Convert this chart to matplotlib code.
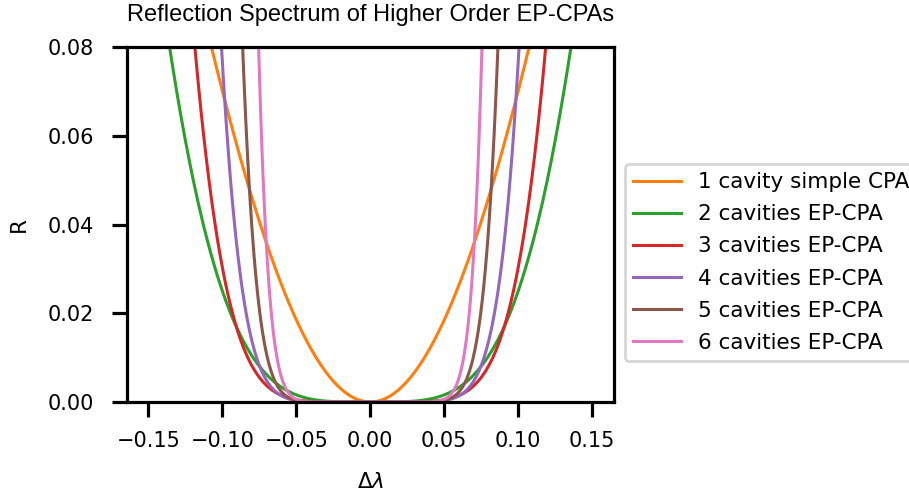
"""
Reflection spectrum of higher order EP-CPAs (R vs detuning).
"""
import numpy as np
import matplotlib
matplotlib.use('Agg')
import matplotlib.pyplot as plt

# ── data ─────────────────────────────────────────────────────────────────────
# reflectance levels; for each curve the |Δλ| where it crosses that level
R_LEVELS = [0.00002, 0.00005, 0.0001, 0.0002, 0.0003, 0.0005, 0.0007, 0.001,
            0.0014, 0.002, 0.0027, 0.0035, 0.0045, 0.0055, 0.007, 0.0085,
            0.01, 0.012, 0.014, 0.016, 0.018, 0.02, 0.0225, 0.025, 0.0275,
            0.03, 0.0335, 0.037, 0.04, 0.045, 0.05, 0.055, 0.06, 0.065,
            0.07, 0.075, 0.08, 0.085]

DL_1CAV = [0.00163, 0.00258, 0.00364, 0.00515, 0.00631, 0.00815, 0.00964,
           0.01152, 0.01364, 0.01630, 0.01895, 0.02158, 0.02449, 0.02709,
           0.03058, 0.03372, 0.03660, 0.04014, 0.04340, 0.04644, 0.04931,
           0.05203, 0.05526, 0.05832, 0.06125, 0.06405, 0.06781, 0.07139,
           0.07434, 0.07906, 0.08356, 0.08787, 0.09202, 0.09603, 0.09992,
           0.10371, 0.10740, 0.11101]
DL_2CAV = [0.016711, 0.021014, 0.024990, 0.029719, 0.032890, 0.037372,
           0.040654, 0.044449, 0.048355, 0.052873, 0.057002, 0.060835,
           0.064796, 0.068147, 0.072409, 0.076039, 0.079222, 0.082958,
           0.086262, 0.089235, 0.091949, 0.094451, 0.097335, 0.099997,
           0.102474, 0.104795, 0.107824, 0.110637, 0.112902, 0.116428,
           0.119692, 0.122740, 0.125606, 0.128316, 0.130890, 0.133347,
           0.135700, 0.137960]
DL_3CAV = [0.029357, 0.034201, 0.038389, 0.043091, 0.046104, 0.050203,
           0.053101, 0.056356, 0.059611, 0.063268, 0.066521, 0.069470,
           0.072454, 0.074931, 0.078024, 0.080610, 0.082844, 0.085429,
           0.087682, 0.089685, 0.091494, 0.093147, 0.095034, 0.096759,
           0.098350, 0.099830, 0.101744, 0.103506, 0.104914, 0.107087,
           0.109079, 0.110923, 0.112643, 0.114257, 0.115781, 0.117225,
           0.118600, 0.119913]
DL_4CAV = [0.035303, 0.039588, 0.043171, 0.047079, 0.049527, 0.052794,
           0.055063, 0.057576, 0.060052, 0.062795, 0.065201, 0.067357,
           0.069516, 0.071290, 0.073486, 0.075305, 0.076865, 0.078657,
           0.080208, 0.081578, 0.082809, 0.083929, 0.085201, 0.086358,
           0.087421, 0.088405, 0.089674, 0.090836, 0.091761, 0.093183,
           0.094480, 0.095676, 0.096786, 0.097825, 0.098801, 0.099724,
           0.100600, 0.101434]
DL_5CAV = [0.037341, 0.040924, 0.043862, 0.047010, 0.048956, 0.051523,
           0.053287, 0.055223, 0.057116, 0.059193, 0.061001, 0.062610,
           0.064209, 0.065517, 0.067127, 0.068453, 0.069585, 0.070880,
           0.071996, 0.072978, 0.073858, 0.074655, 0.075559, 0.076379,
           0.077130, 0.077824, 0.078716, 0.079531, 0.080179, 0.081171,
           0.082074, 0.082904, 0.083673, 0.084390, 0.085063, 0.085698,
           0.086300, 0.086872]
DL_6CAV = [0.037563, 0.040544, 0.042955, 0.045509, 0.047073, 0.049121,
           0.050519, 0.052045, 0.053526, 0.055144, 0.056544, 0.057784,
           0.059011, 0.060012, 0.061237, 0.062244, 0.063101, 0.064078,
           0.064917, 0.065655, 0.066314, 0.066910, 0.067584, 0.068195,
           0.068753, 0.069268, 0.069929, 0.070532, 0.071010, 0.071742,
           0.072406, 0.073016, 0.073580, 0.074105, 0.074597, 0.075061,
           0.075500, 0.075917]

LABELS = ['1 cavity simple CPA', '2 cavities EP-CPA', '3 cavities EP-CPA',
          '4 cavities EP-CPA', '5 cavities EP-CPA', '6 cavities EP-CPA']
CURVES = [DL_1CAV, DL_2CAV, DL_3CAV, DL_4CAV, DL_5CAV, DL_6CAV]
COLORS = ['C1', 'C2', 'C3', 'C4', 'C5', 'C6']

X_TICKS = [-0.15, -0.10, -0.05, 0.00, 0.05, 0.10, 0.15]
Y_TICKS = [0.00, 0.02, 0.04, 0.06, 0.08]


def full_curve(dl, r):
    # spectrum is symmetric: mirror the read half and join at the R=0 minimum
    dl = np.asarray(dl)
    r = np.asarray(r)
    x = np.concatenate([-dl[::-1], [0.0], dl])
    y = np.concatenate([r[::-1], [0.0], r])
    return x, y


def tick_text(v):
    return f'{v:.2f}'.replace('-', '\u2212')


# ── figure ───────────────────────────────────────────────────────────────────
fig = plt.figure(figsize=(9.09, 4.94), dpi=100)
ax = fig.add_axes([0.1397, 0.1862, 0.5358, 0.7186])

for dl, label, color in zip(CURVES, LABELS, COLORS):
    x, y = full_curve(dl, R_LEVELS)
    ax.plot(x, y, color=color, linewidth=2.2, label=label)

ax.set_xlim(-0.1645, 0.1648)
ax.set_ylim(0.0, 0.08)
ax.set_xticks(X_TICKS)
ax.set_yticks(Y_TICKS)
ax.set_xticklabels([tick_text(v) for v in X_TICKS])
ax.set_yticklabels([tick_text(v) for v in Y_TICKS])

for side in ax.spines.values():
    side.set_linewidth(2.3)
ax.tick_params(axis='both', length=11, width=2.3, labelsize=15)
ax.tick_params(axis='x', pad=10)
ax.tick_params(axis='y', pad=13)

ax.set_xlabel(r'$\Delta\lambda$', fontsize=15.5, labelpad=15)
ax.set_ylabel('R', fontsize=15.5, labelpad=13)
ax.set_title('Reflection Spectrum of Higher Order EP-CPAs',
             family='Liberation Sans', fontsize=17, pad=18.5)

leg = ax.legend(loc='center left', bbox_to_anchor=(1.0, 0.393),
                fontsize=15.5, handlelength=2.2, labelspacing=0.56,
                frameon=True)
leg.get_frame().set_linewidth(2.0)

fig.savefig('out.png', dpi=100)
plt.close(fig)
